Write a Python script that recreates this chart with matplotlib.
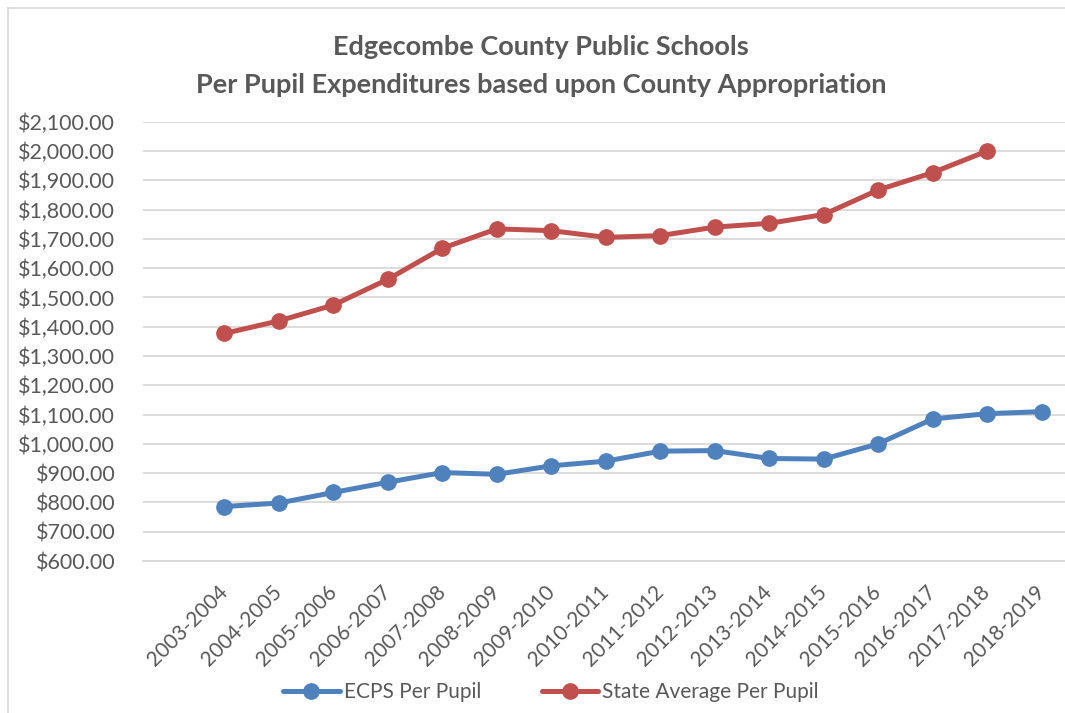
import matplotlib
matplotlib.use("Agg")
import matplotlib.pyplot as plt
from matplotlib.lines import Line2D
import numpy as np

years = ["2003-2004", "2004-2005", "2005-2006", "2006-2007", "2007-2008", "2008-2009",
         "2009-2010", "2010-2011", "2011-2012", "2012-2013", "2013-2014", "2014-2015",
         "2015-2016", "2016-2017", "2017-2018", "2018-2019"]
ecps = [786, 798, 834, 869, 902, 896, 925, 941, 975, 977, 950, 948, 1000, 1085, 1103, 1110]
state = [1377, 1420, 1474, 1562, 1668, 1734, 1728, 1705, 1711, 1740, 1753, 1783, 1867, 1926, 2000]
yticks = list(range(600, 2101, 100))

BLUE = "#4F81BD"
RED = "#C0504D"
TXT = "#595959"
GRID = "#D9D9D9"
FONT = "Lato"

W, H = 1065, 713
fig = plt.figure(figsize=(W / 100, H / 100), dpi=100)
fig.patch.set_facecolor("white")

# chart border (cropped on right/bottom)
fig.add_artist(Line2D([8 / W, 8 / W], [0, 1 - 8 / H], color=GRID, lw=1.2, transform=fig.transFigure))
fig.add_artist(Line2D([8 / W, 1], [1 - 8 / H, 1 - 8 / H], color=GRID, lw=1.2, transform=fig.transFigure))

left, right = 143 / W, 1.0
bottom, top = 1 - 561 / H, 1 - 121.7 / H
ax = fig.add_axes([left, bottom, right - left, top - bottom])

x = np.arange(len(years))
ax.plot(x[:len(ecps)], ecps, color=BLUE, lw=3.6, marker="o", ms=11, label="ECPS Per Pupil",
        solid_capstyle="round", zorder=3)
ax.plot(x[:len(state)], state, color=RED, lw=3.6, marker="o", ms=11, label="State Average Per Pupil",
        solid_capstyle="round", zorder=3)

ax.set_ylim(600, 2100)
ax.set_xlim(-1.496, 15.43)
ax.set_yticks(yticks)
ax.set_yticklabels([f"${v:,.2f}" for v in yticks], fontsize=15.5, color=TXT, family=FONT)
ax.set_xticks(x)
ax.set_xticklabels(years, fontsize=15, color=TXT, family=FONT, rotation=45,
                   ha="right", va="center", rotation_mode="anchor")
ax.tick_params(axis="y", length=0, pad=20)
ax.tick_params(axis="x", length=0, pad=20)
ax.grid(axis="y", color=GRID, lw=1.3)
ax.set_axisbelow(True)
for s in ["left", "right", "top"]:
    ax.spines[s].set_visible(False)
ax.spines["bottom"].set_color(GRID)
ax.spines["bottom"].set_linewidth(1.3)

fig.text(541 / W, 1 - 47 / H, "Edgecombe County Public Schools", ha="center", va="center",
         fontsize=19.5, fontweight="bold", color=TXT, family=FONT)
fig.text(541 / W, 1 - 85 / H, "Per Pupil Expenditures based upon County Appropriation",
         ha="center", va="center", fontsize=19.5, fontweight="bold", color=TXT, family=FONT)

leg = fig.legend(loc="center", bbox_to_anchor=(551 / W, 1 - 692 / H), ncol=2, frameon=False,
                 prop={"family": FONT, "size": 15}, handlelength=2.7, columnspacing=2.9,
                 handletextpad=0.2)
for t in leg.get_texts():
    t.set_color(TXT)

fig.savefig("out.png", dpi=100, facecolor="white")
